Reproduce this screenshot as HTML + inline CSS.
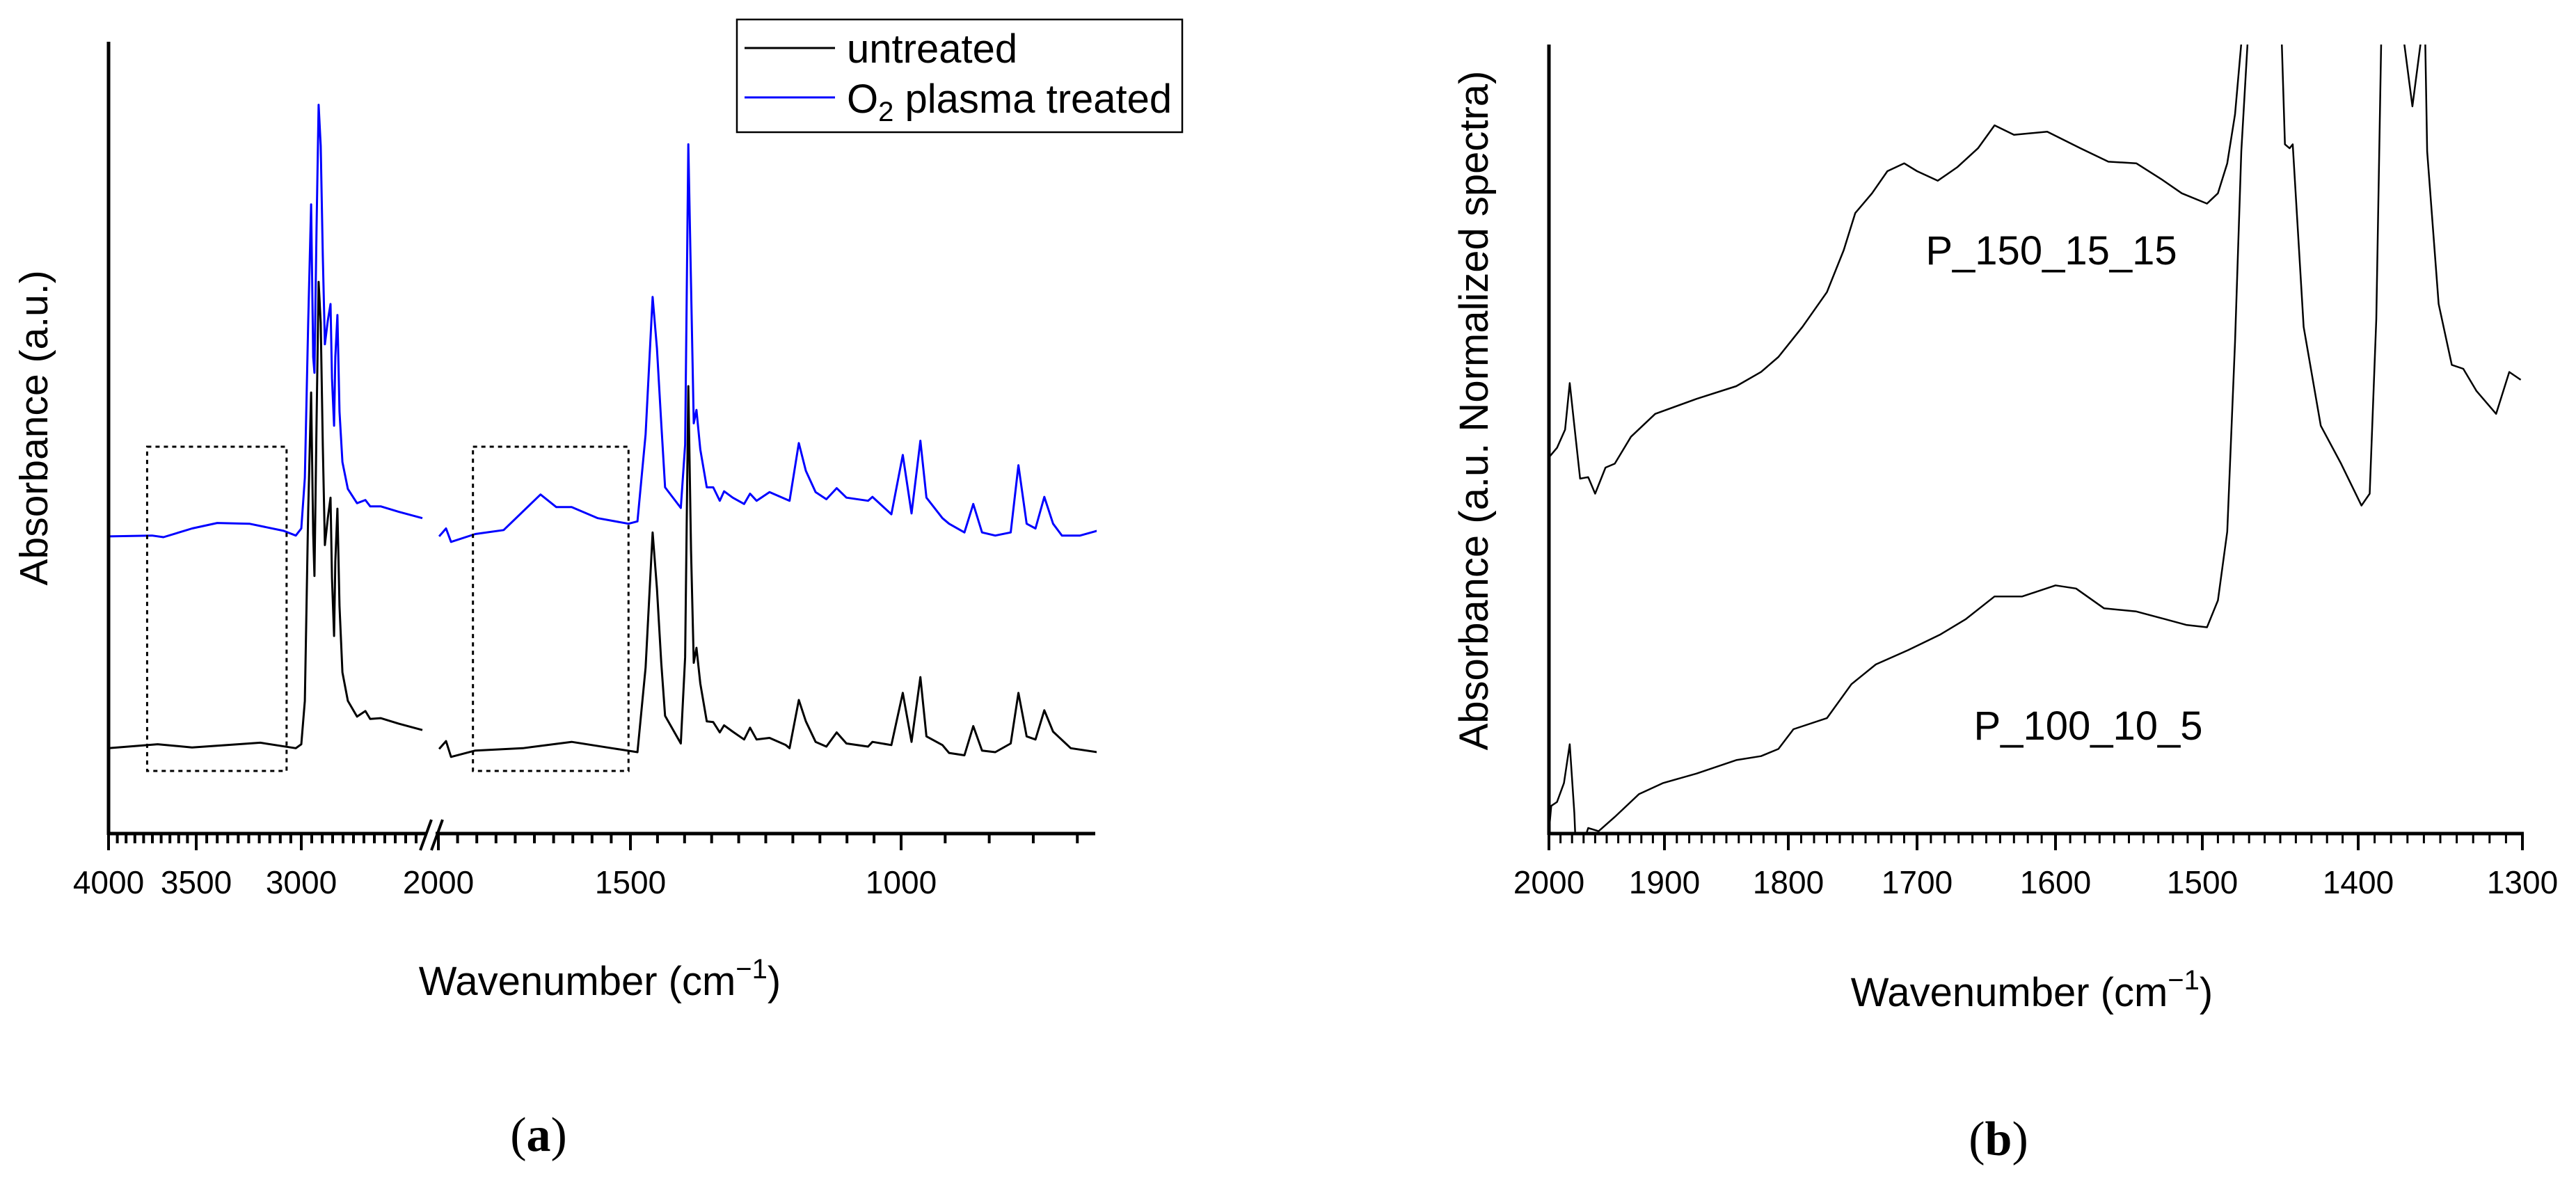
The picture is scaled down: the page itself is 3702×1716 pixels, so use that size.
<!DOCTYPE html>
<html><head><meta charset="utf-8"><style>
html,body{margin:0;padding:0;background:#fff;}
svg{display:block;font-family:"Liberation Sans",Arial,sans-serif;}
</style></head><body>
<svg id="fig" width="3702" height="1716" viewBox="0 0 3702 1716" xmlns="http://www.w3.org/2000/svg">
<defs>
<clipPath id="clipA"><rect x="156" y="40" width="1420" height="1158"/></clipPath>
<clipPath id="clipB"><rect x="2226" y="64" width="1400" height="1134"/></clipPath>
</defs>
<g id="panelA"></g>
<g id="panelB"></g>
</svg>
<script>
// ---------- Panel (a) data ----------
const untreatedLeft = [[4000,0.108],[3720,0.113],[3524,0.109],[3300,0.113],[3195,0.115],[3026,0.108],[3000,0.113],[2983,0.168],[2967,0.407],[2953,0.558],[2943,0.379],[2937,0.326],[2927,0.519],[2917,0.698],[2907,0.646],[2897,0.491],[2887,0.365],[2873,0.399],[2860,0.425],[2853,0.323],[2843,0.250],[2837,0.344],[2827,0.411],[2817,0.288],[2803,0.204],[2777,0.168],[2733,0.148],[2693,0.155],[2670,0.145],[2620,0.146],[2533,0.139],[2420,0.131]];
const plasmaLeft = [[4000,0.376],[3752,0.377],[3687,0.375],[3524,0.386],[3400,0.393],[3247,0.392],[3084,0.383],[3026,0.377],[3000,0.386],[2983,0.450],[2967,0.646],[2953,0.796],[2943,0.603],[2937,0.583],[2927,0.765],[2917,0.922],[2907,0.870],[2897,0.731],[2887,0.619],[2873,0.649],[2860,0.670],[2853,0.576],[2843,0.516],[2837,0.603],[2827,0.656],[2817,0.534],[2803,0.470],[2777,0.436],[2733,0.418],[2693,0.422],[2670,0.414],[2620,0.414],[2533,0.407],[2420,0.399]];
const untreatedRight = [[1998,0.107],[1980,0.117],[1967,0.097],[1904,0.105],[1780,0.108],[1653,0.116],[1548,0.108],[1487,0.103],[1472,0.210],[1459,0.381],[1451,0.310],[1443,0.216],[1436,0.149],[1407,0.114],[1399,0.223],[1393,0.566],[1388,0.358],[1383,0.216],[1378,0.235],[1371,0.190],[1359,0.142],[1347,0.141],[1335,0.128],[1327,0.137],[1311,0.129],[1290,0.119],[1279,0.134],[1267,0.119],[1243,0.121],[1213,0.112],[1206,0.108],[1189,0.169],[1176,0.142],[1158,0.116],[1138,0.110],[1119,0.128],[1101,0.114],[1061,0.110],[1053,0.116],[1018,0.112],[997,0.178],[981,0.116],[965,0.198],[954,0.123],[925,0.112],[913,0.102],[885,0.099],[869,0.136],[853,0.105],[829,0.103],[801,0.114],[787,0.178],[772,0.123],[756,0.119],[740,0.156],[724,0.129],[692,0.108],[644,0.103]];
const plasmaRight = [[1998,0.376],[1980,0.386],[1967,0.369],[1904,0.379],[1830,0.384],[1734,0.429],[1693,0.413],[1653,0.413],[1585,0.399],[1505,0.392],[1487,0.395],[1472,0.505],[1459,0.679],[1451,0.614],[1443,0.519],[1436,0.438],[1407,0.412],[1399,0.492],[1393,0.872],[1388,0.694],[1383,0.519],[1378,0.536],[1371,0.486],[1359,0.438],[1347,0.438],[1335,0.421],[1327,0.433],[1311,0.425],[1290,0.417],[1279,0.430],[1267,0.421],[1243,0.432],[1206,0.421],[1189,0.494],[1176,0.459],[1158,0.432],[1138,0.423],[1119,0.437],[1101,0.425],[1061,0.421],[1053,0.426],[1018,0.404],[997,0.479],[981,0.405],[965,0.497],[954,0.425],[925,0.399],[913,0.392],[885,0.381],[869,0.417],[853,0.381],[829,0.377],[801,0.381],[787,0.466],[772,0.392],[756,0.386],[740,0.426],[724,0.392],[708,0.377],[675,0.377],[644,0.383]];
const aTickLabels = [4000,3500,3000,2000,1500,1000];
const aMinorLeft = [3950,3900,3850,3800,3750,3700,3650,3600,3550,3450,3400,3350,3300,3250,3200,3150,3100,3050,2950,2900,2850,2800,2750,2700,2650,2600,2550,2500,2450];
const aMinorRight = [1950,1900,1850,1800,1750,1700,1650,1600,1550,1450,1400,1350,1300,1250,1200,1150,1100,1050,920,840,760,680];
const aBoxes = [[3780,3070],[1910,1505]];

// ---------- Panel (b) data ----------
const bUpper = [[2000,0.476],[1993,0.488],[1986,0.511],[1982,0.570],[1978,0.516],[1973,0.449],[1966,0.451],[1960,0.430],[1951,0.463],[1943,0.468],[1929,0.502],[1908,0.531],[1874,0.550],[1842,0.566],[1822,0.584],[1808,0.603],[1789,0.641],[1770,0.685],[1757,0.738],[1748,0.785],[1735,0.810],[1723,0.838],[1710,0.848],[1700,0.838],[1685,0.826],[1671,0.843],[1656,0.867],[1644,0.896],[1630,0.884],[1606,0.888],[1583,0.867],[1564,0.850],[1545,0.848],[1528,0.828],[1514,0.810],[1497,0.797],[1490,0.810],[1484,0.848],[1479,0.910],[1475,1.0],[1470,1.3],[1455,1.3],[1449,1.0],[1447,0.872],[1444,0.867],[1442,0.872],[1435,0.641],[1424,0.516],[1411,0.468],[1398,0.415],[1393,0.430],[1389,0.651],[1386,1.0],[1382,1.3],[1375,1.3],[1372,1.0],[1367,0.920],[1362,1.0],[1360,1.1],[1358,0.863],[1351,0.670],[1343,0.593],[1336,0.588],[1328,0.560],[1316,0.531],[1308,0.584],[1301,0.574]];
const bLower = [[2000,0.002],[1998,0.035],[1993,0.040],[1987,0.064],[1982,0.113],[1978,0.026],[1977,-0.01],[1972,-0.02],[1966,0.007],[1957,0.003],[1943,0.021],[1922,0.050],[1901,0.064],[1874,0.076],[1842,0.093],[1822,0.098],[1808,0.107],[1796,0.132],[1770,0.146],[1751,0.189],[1732,0.214],[1707,0.232],[1683,0.252],[1665,0.271],[1644,0.300],[1624,0.300],[1600,0.314],[1586,0.310],[1567,0.285],[1545,0.281],[1525,0.271],[1511,0.264],[1497,0.261],[1490,0.295],[1484,0.382],[1479,0.622],[1475,0.863],[1471,1.0],[1465,1.3]];
const bTickLabels = [2000,1900,1800,1700,1600,1500,1400,1300];

// ---------- scales ----------
function piecewise(anchors){
  return function(v){
    let i=0;
    while(i<anchors.length-2 && v<anchors[i+1][0]) i++;
    const a=anchors[i], b=anchors[i+1];
    return a[1]+(v-a[0])*(b[1]-a[1])/(b[0]-a[0]);
  };
}
const xLeft = piecewise([[4000,156],[3500,282],[3000,433],[2400,613]]);
const xRight = piecewise([[2000,630],[1500,906],[1000,1295],[650,1572]]);
function xA(w){ return w>2200 ? xLeft(w) : xRight(w); }
function yA(v){ return 1198 - v*1136; }
const xB = piecewise([[2000,2226],[1900,2392],[1800,2570],[1700,2755],[1600,2954],[1500,3165],[1400,3389],[1300,3625]]);
function yB(v){ return 1198 - v*1136; }

const NS="http://www.w3.org/2000/svg";
function mk(tag, attrs, parent){
  const e=document.createElementNS(NS,tag);
  for(const k in attrs) e.setAttribute(k,attrs[k]);
  parent.appendChild(e); return e;
}
function pathFrom(arr, xs, ys){
  return arr.map((p,i)=>(i?'L':'M')+xs(p[0]).toFixed(1)+','+ys(p[1]).toFixed(1)).join(' ');
}

// ---------- Panel A ----------
const A=document.getElementById('panelA');
const gA=mk('g',{'clip-path':'url(#clipA)'},A);
let e;
e=mk('path',{d:pathFrom(untreatedLeft,xA,yA),fill:'none',stroke:'#000','stroke-width':3,'stroke-linejoin':'round'},gA);


e=mk('path',{d:pathFrom(untreatedRight,xA,yA),fill:'none',stroke:'#000','stroke-width':3,'stroke-linejoin':'round'},gA);


e=mk('path',{d:pathFrom(plasmaLeft,xA,yA),fill:'none',stroke:'#0000ff','stroke-width':3,'stroke-linejoin':'round'},gA);


e=mk('path',{d:pathFrom(plasmaRight,xA,yA),fill:'none',stroke:'#0000ff','stroke-width':3,'stroke-linejoin':'round'},gA);


aBoxes.forEach(b=>{
  const x1=xA(b[0]), x2=xA(b[1]);
  e=mk('rect',{x:x1,y:642,width:x2-x1,height:466,fill:'none',stroke:'#000','stroke-width':3,'stroke-dasharray':'6 6'},A);
  
  
});
e=mk('line',{x1:156,y1:60,x2:156,y2:1200,stroke:'#000','stroke-width':5},A);


e=mk('line',{x1:154,y1:1198,x2:612,y2:1198,stroke:'#000','stroke-width':5},A);


e=mk('line',{x1:626,y1:1198,x2:1574,y2:1198,stroke:'#000','stroke-width':5},A);


e=mk('path',{d:'M604,1222 L620,1178 M620,1222 L636,1178',stroke:'#000','stroke-width':4,fill:'none'},A);


aMinorLeft.forEach(w=>{ e=mk('line',{x1:xA(w),y1:1198,x2:xA(w),y2:1212,stroke:'#000','stroke-width':4},A);
    });
aMinorRight.forEach(w=>{ e=mk('line',{x1:xA(w),y1:1198,x2:xA(w),y2:1212,stroke:'#000','stroke-width':4},A);
    });
aTickLabels.forEach(w=>{
  e=mk('line',{x1:xA(w),y1:1198,x2:xA(w),y2:1222,stroke:'#000','stroke-width':4},A);
   
  e=mk('text',{x:xA(w),y:1284,'font-size':46,'text-anchor':'middle'},A);
  e.textContent=w;
   
});

// ---------- Panel B ----------
const B=document.getElementById('panelB');
const gB=mk('g',{'clip-path':'url(#clipB)'},B);
e=mk('path',{d:pathFrom(bUpper,xB,yB),fill:'none',stroke:'#000','stroke-width':2.5,'stroke-linejoin':'round'},gB);


e=mk('path',{d:pathFrom(bLower,xB,yB),fill:'none',stroke:'#000','stroke-width':2.5,'stroke-linejoin':'round'},gB);


e=mk('line',{x1:2226,y1:64,x2:2226,y2:1200,stroke:'#000','stroke-width':5},B);


e=mk('line',{x1:2224,y1:1198,x2:3627,y2:1198,stroke:'#000','stroke-width':5},B);


for(let w=1990; w>1300; w-=10){
  if(w%100===0) continue;
  e=mk('line',{x1:xB(w),y1:1198,x2:xB(w),y2:1212,stroke:'#000','stroke-width':3},B);
   
}
bTickLabels.forEach(w=>{
  e=mk('line',{x1:xB(w),y1:1198,x2:xB(w),y2:1222,stroke:'#000','stroke-width':4},B);
   
  e=mk('text',{x:xB(w),y:1284,'font-size':46,'text-anchor':'middle'},B);
  e.textContent=w;
   
});
</script>
<div style="position:absolute;left:0;top:0;width:3702px;height:1716px;pointer-events:none">
<svg width="3702" height="1716" viewBox="0 0 3702 1716" style="font-family:'Liberation Sans',Arial,sans-serif">
  <g>
    <rect x="1059" y="28" width="640" height="162" fill="#fff" stroke="#000" stroke-width="2.5"/>
    <line x1="1070" y1="69" x2="1200" y2="69" stroke="#000" stroke-width="3"/>
    <text x="1217" y="90" font-size="58">untreated</text>
    <line x1="1070" y1="140" x2="1200" y2="140" stroke="#0000ff" stroke-width="3"/>
    <text x="1217" y="162" font-size="58">O<tspan font-size="40" dy="12">2</tspan><tspan dy="-12"> plasma treated</tspan></text>
  </g>
  <text transform="translate(68,615) rotate(-90)" text-anchor="middle" font-size="57">Absorbance (a.u.)</text>
  <text x="862" y="1430" text-anchor="middle" font-size="58">Wavenumber (cm<tspan font-size="40" dy="-24">−1</tspan><tspan dy="24">)</tspan></text>
  <text x="774" y="1654" text-anchor="middle" font-size="70" font-family="Liberation Serif,serif">(<tspan font-weight="bold">a</tspan>)</text>
  <text transform="translate(2138,590) rotate(-90)" text-anchor="middle" font-size="58">Absorbance (a.u. Normalized spectra)</text>
  <text x="2920" y="1446" text-anchor="middle" font-size="58">Wavenumber (cm<tspan font-size="40" dy="-24">−1</tspan><tspan dy="24">)</tspan></text>
  <text x="2948" y="380" text-anchor="middle" font-size="58">P_150_15_15</text>
  <text x="3001" y="1063" text-anchor="middle" font-size="58">P_100_10_5</text>
  <text x="2872" y="1660" text-anchor="middle" font-size="70" font-family="Liberation Serif,serif">(<tspan font-weight="bold">b</tspan>)</text>
</svg>
</div>
</body></html>
